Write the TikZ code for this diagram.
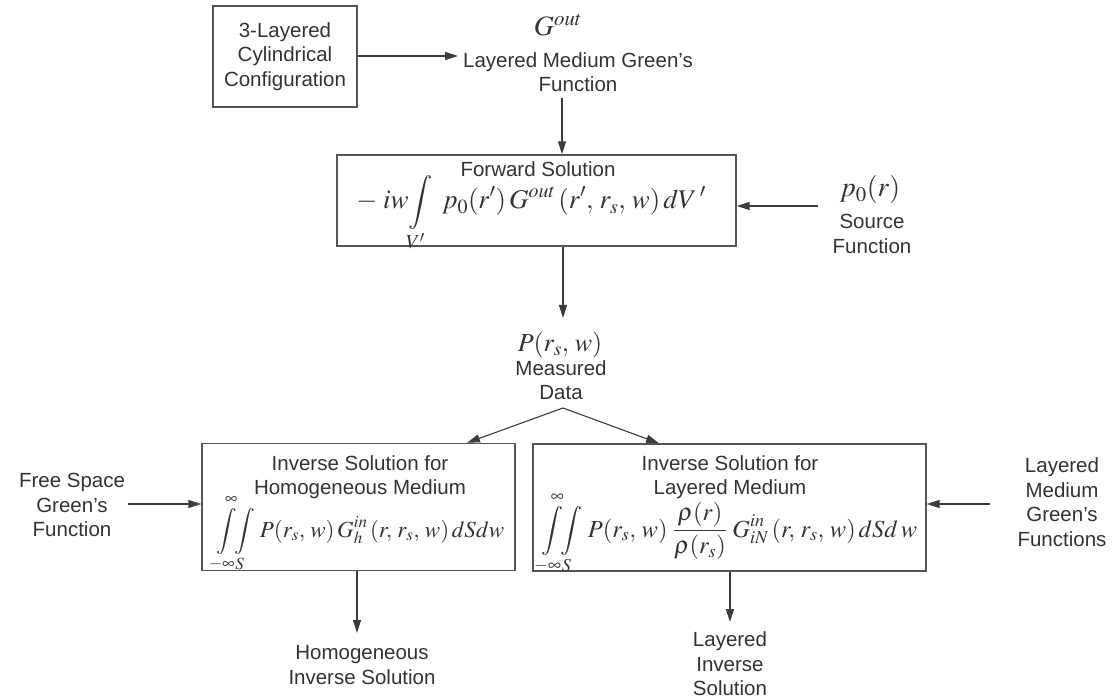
\documentclass[tikz,border=0pt]{standalone}
\usepackage{mathptmx}
\usepackage{graphicx}
\usepackage{fontspec}
\setmainfont{Liberation Sans}
\usetikzlibrary{arrows.meta}
\definecolor{txt}{HTML}{333333}
\definecolor{ln}{HTML}{3C3C3C}
\definecolor{bx}{HTML}{555555}
\begin{document}
\begin{tikzpicture}[x=1pt,y=-1pt,
  lbl/.style={text=txt, font=\fontsize{20.5}{24.5}\selectfont, align=center, inner sep=0pt},
  mth/.style={text=txt, inner sep=0pt},
  box/.style={draw=bx, line width=1.4pt, inner sep=0pt, text=txt, align=center,
              font=\fontsize{20.5}{24.5}\selectfont},
  arr/.style={draw=ln, line width=1.1pt, -{Triangle[length=13pt,width=8pt]}}]
\useasboundingbox (0,0) rectangle (1117,700);

% top: configuration
\node[box, minimum width=144pt, minimum height=101pt] (cfg) at (285,56.5)
  {3-Layered\\Cylindrical\\Configuration};
\node[mth] (gout) at (558,25) {\fontsize{28}{30}\selectfont$G^{out}$};
\node[lbl] (gfn) at (578,72) {Layered Medium Green's\\Function};
\coordinate (c1) at (458,56);
\draw[arr] (cfg.east |- c1) -- (c1);

% forward solution
\node[box, minimum width=399pt, minimum height=91pt] (fwd) at (536.5,200.5) {};
\node[lbl] (fwdt) at (538,169) {Forward Solution};
\node[mth, anchor=base] (fwdf) at (531,209)
  {\fontsize{27}{29}\selectfont$\displaystyle -\;iw\!\int\limits_{V'}\; p_0(r')\,G^{out}\,(r',\,r_s,\,w)\,dV\,'$};
\coordinate (c2) at (562,98);
\draw[arr] (c2) -- (c2 |- fwd.north);

% source
\node[mth] (p0) at (870,190) {\fontsize{28}{30}\selectfont$p_0(r)$};
\node[lbl] (src) at (872,234) {Source\\Function};
\coordinate (c3) at (818,206);
\draw[arr] (c3) -- (c3 -| fwd.east);

% measured data
\coordinate (c4) at (563,318);
\draw[arr] (c4 |- fwd.south) -- (c4);
\node[mth] (pm) at (560,345) {\fontsize{26}{28}\selectfont$P(r_s,\,w)$};
\node[lbl] (md) at (561,380) {Measured\\Data};
\coordinate (apex) at (563,408);

% inverse boxes
\node[box, minimum width=313pt, minimum height=127pt] (lbox) at (358.5,507) {};
\node[box, minimum width=393pt, minimum height=127pt] (rbox) at (729.5,507.5) {};
\coordinate (tl) at (467,443);
\coordinate (tr) at (659,443);
\draw[arr] (apex) -- (tl |- lbox.north);
\draw[arr] (apex) -- (tr |- rbox.north);

\node[lbl] (lt) at (360,477) {Inverse Solution for\\Homogeneous Medium};
\node[mth, anchor=base] (lf) at (359,537)
  {\fontsize{23}{25}\selectfont$\displaystyle \int\limits_{-\infty}^{\infty}\!\!\!\int\limits_{S}\, P(r_s,\,w)\,G_h^{in}\,(r,\,r_s,\,w)\,dSdw$};
\node[lbl] (rt) at (730,477) {Inverse Solution for\\Layered Medium};
\node[mth, anchor=base] (rf) at (728,537)
  {\fontsize{24.5}{26}\selectfont$\displaystyle \int\limits_{-\infty}^{\infty}\!\!\!\int\limits_{S}\, P(r_s,\,w)\;\frac{\rho(r)}{\rho(r_s)}\;G_{iN}^{in}\,(r,\,r_s,\,w)\,dSd\,w$};

% side inputs
\node[lbl] (fs) at (72,505) {Free Space\\Green's\\Function};
\coordinate (c5) at (128,504);
\draw[arr] (c5) -- (c5 -| lbox.west);
\node[lbl] (lm) at (1062,502) {Layered\\Medium\\Green's\\Functions};
\coordinate (c6) at (990,504);
\draw[arr] (c6) -- (c6 -| rbox.east);

% outputs
\coordinate (c7) at (357,633);
\draw[arr] (c7 |- lbox.south) -- (c7);
\node[lbl] (hom) at (362,665) {Homogeneous\\Inverse Solution};
\coordinate (c8) at (730,622);
\draw[arr] (c8 |- rbox.south) -- (c8);
\node[lbl] (lay) at (730,664) {Layered\\Inverse\\Solution};
\end{tikzpicture}
\end{document}
